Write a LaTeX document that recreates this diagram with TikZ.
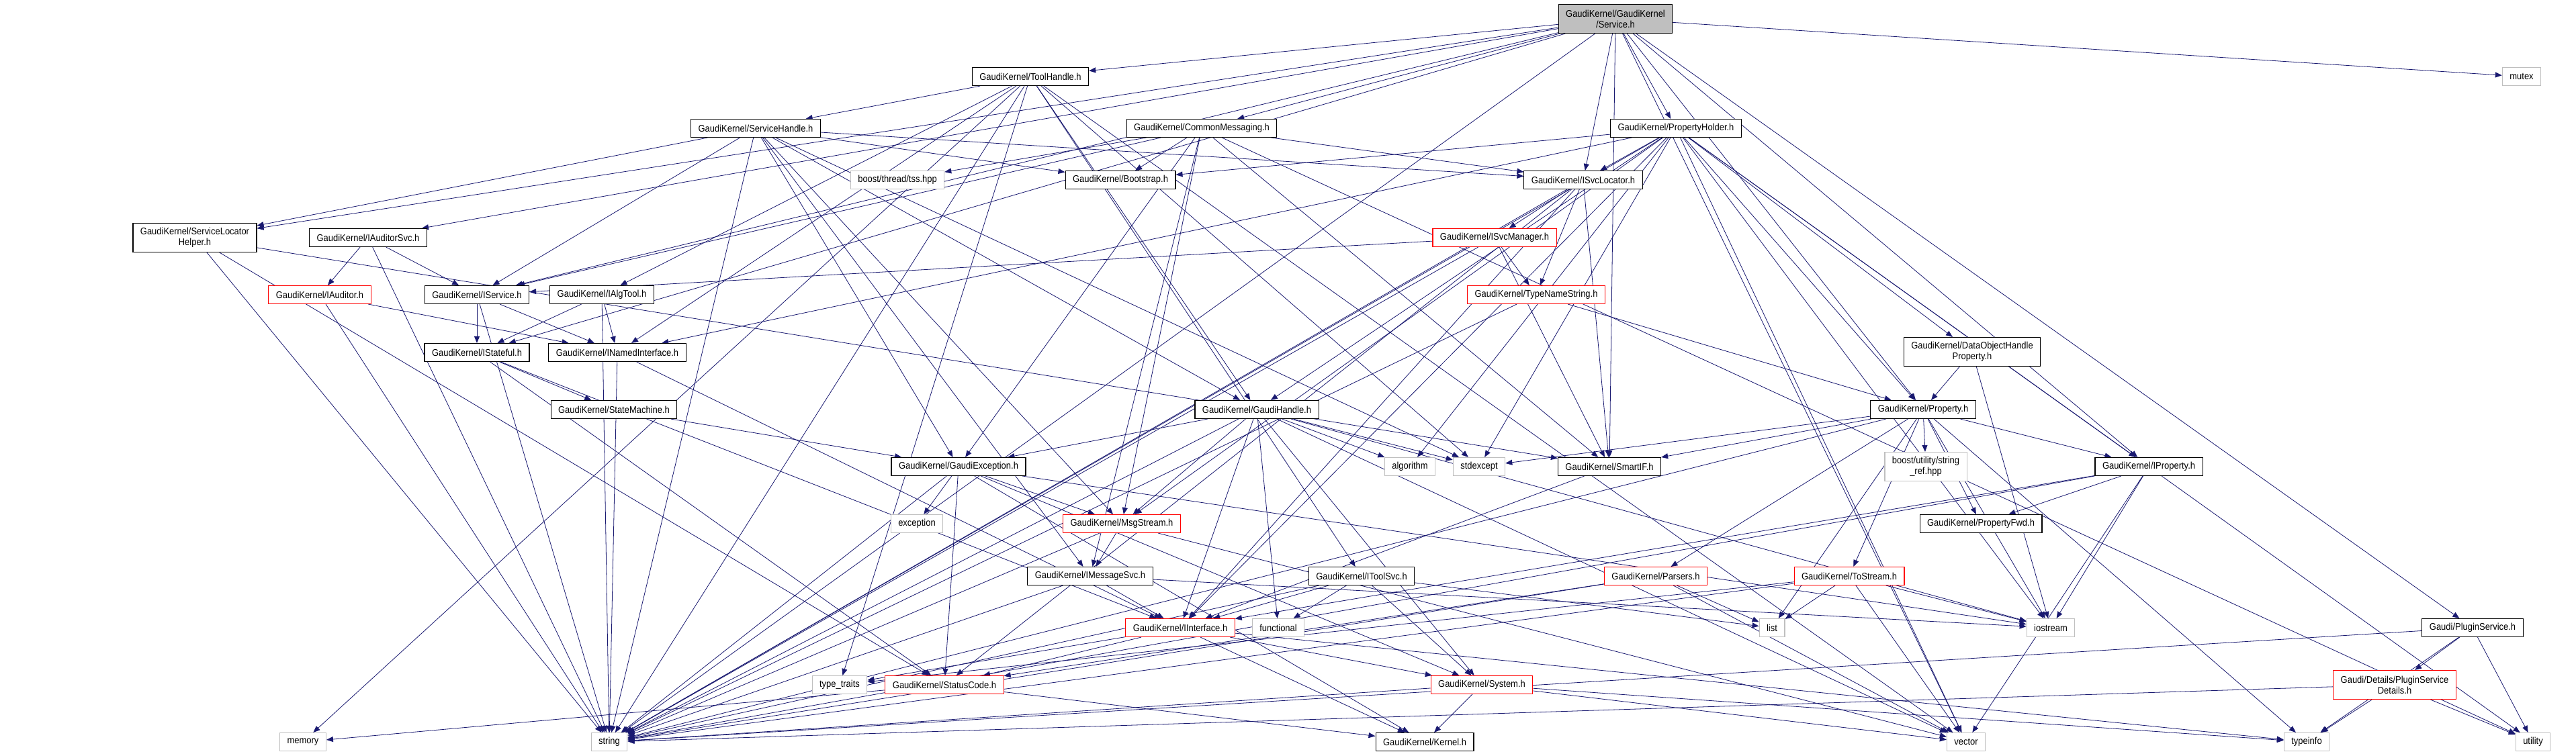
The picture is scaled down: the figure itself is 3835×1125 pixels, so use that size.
\documentclass[tikz,border=0pt]{standalone}
\usepackage{fontspec}
\newfontfamily\graphfont[FakeStretch=0.9]{Liberation Sans}
\usepackage{tikz}
\usetikzlibrary{arrows.meta}
\pgfdeclarelayer{edges}
\pgfsetlayers{edges,main}
\definecolor{edgeblue}{HTML}{191970}
\definecolor{sysgray}{HTML}{BFBFBF}
\definecolor{rootgray}{HTML}{BFBFBF}
\definecolor{hdrred}{HTML}{FF0000}
\tikzset{
  hdr/.style={draw=black,fill=white,line width=1.1pt,rectangle,align=center,
    minimum height=27pt,inner xsep=11pt,inner ysep=3pt,
    font={\graphfont\fontsize{14.4pt}{16pt}\selectfont}},
  redhdr/.style={hdr,draw=hdrred},
  syshdr/.style={hdr,draw=sysgray},
  roothdr/.style={hdr,fill=rootgray},
  twoline/.style={minimum height=43pt},
  incl/.style={-{Triangle[length=10pt,width=8pt]},line width=0.8pt,draw=edgeblue}
}

\begin{document}
\begin{tikzpicture}[x=1pt,y=-1pt]
\useasboundingbox (0,0) rectangle (3835,1125);

% header boxes, top to bottom
\node[roothdr,twoline] (svc) at (2405,28) {GaudiKernel/GaudiKernel\\/Service.h};
\node[hdr] (toolh) at (1534,114) {GaudiKernel/ToolHandle.h};
\node[syshdr] (mutex) at (3754,114) {mutex};
\node[hdr] (servh) at (1125,191) {GaudiKernel/ServiceHandle.h};
\node[hdr] (cmsg) at (1789,191) {GaudiKernel/CommonMessaging.h};
\node[hdr] (propholder) at (2495,191) {GaudiKernel/PropertyHolder.h};
\node[syshdr] (tss) at (1336,268) {boost/thread/tss.hpp};
\node[hdr] (bootstrap) at (1668,268) {GaudiKernel/Bootstrap.h};
\node[hdr] (isvcloc) at (2357,268) {GaudiKernel/ISvcLocator.h};
\node[hdr,twoline] (svclochelper) at (290,354) {GaudiKernel/ServiceLocator\\Helper.h};
\node[hdr] (iauditorsvc) at (548,354) {GaudiKernel/IAuditorSvc.h};
\node[redhdr] (isvcmanager) at (2225,354) {GaudiKernel/ISvcManager.h};
\node[redhdr] (iauditor) at (476,439) {GaudiKernel/IAuditor.h};
\node[hdr] (iservice) at (710,439) {GaudiKernel/IService.h};
\node[hdr] (ialgtool) at (896,439) {GaudiKernel/IAlgTool.h};
\node[redhdr] (typenamestring) at (2287,439) {GaudiKernel/TypeNameString.h};
\node[hdr,twoline] (dohprop) at (2936,524) {GaudiKernel/DataObjectHandle\\Property.h};
\node[hdr] (istateful) at (710,525) {GaudiKernel/IStateful.h};
\node[hdr] (inamedif) at (919,525) {GaudiKernel/INamedInterface.h};
\node[hdr] (statemachine) at (914,610) {GaudiKernel/StateMachine.h};
\node[hdr] (gaudihandle) at (1871,610) {GaudiKernel/GaudiHandle.h};
\node[hdr] (property) at (2863,610) {GaudiKernel/Property.h};
\node[hdr] (gexc) at (1427,695) {GaudiKernel/GaudiException.h};
\node[syshdr] (algorithm) at (2099,695) {algorithm};
\node[syshdr] (stdexcept) at (2202,695) {stdexcept};
\node[hdr] (smartif) at (2396,695) {GaudiKernel/SmartIF.h};
\node[syshdr,twoline] (stringref) at (2867,695) {boost/utility/string\\\_ref.hpp};
\node[hdr] (iproperty) at (3199,695) {GaudiKernel/IProperty.h};
\node[syshdr] (exception) at (1365,780) {exception};
\node[redhdr] (msgstream) at (1670,780) {GaudiKernel/MsgStream.h};
\node[hdr] (propertyfwd) at (2949,780) {GaudiKernel/PropertyFwd.h};
\node[hdr] (imsgsvc) at (1623,858) {GaudiKernel/IMessageSvc.h};
\node[hdr] (itoolsvc) at (2027,858) {GaudiKernel/IToolSvc.h};
\node[redhdr] (parsers) at (2465,858) {GaudiKernel/Parsers.h};
\node[redhdr] (tostream) at (2753,858) {GaudiKernel/ToStream.h};
\node[redhdr] (iinterface) at (1757,935) {GaudiKernel/IInterface.h};
\node[syshdr] (functional) at (1903,935) {functional};
\node[syshdr] (list) at (2638,935) {list};
\node[syshdr] (iostream) at (3053,935) {iostream};
\node[hdr] (pluginsvc) at (3681,935) {Gaudi/PluginService.h};
\node[syshdr] (typetraits) at (1250,1020) {type\_traits};
\node[redhdr] (statuscode) at (1406,1020) {GaudiKernel/StatusCode.h};
\node[redhdr] (system) at (2206,1020) {GaudiKernel/System.h};
\node[redhdr,twoline] (pluginsvcdetails) at (3565,1020) {Gaudi/Details/PluginService\\Details.h};
\node[syshdr] (memory) at (451,1105) {memory};
\node[syshdr] (string) at (907,1105) {string};
\node[hdr] (kernel) at (2121,1105) {GaudiKernel/Kernel.h};
\node[syshdr] (vector) at (2927,1105) {vector};
\node[syshdr] (typeinfo) at (3434,1105) {typeinfo};
\node[syshdr] (utility) at (3771,1105) {utility};

\begin{pgfonlayer}{edges}
% includes of Service.h
\draw[incl] (svc) -- (toolh);
\draw[incl] (svc) -- (cmsg);
\draw[incl] (svc) -- (propholder);
\draw[incl] (svc) -- (isvcloc);
\draw[incl] (svc) -- (svclochelper);
\draw[incl] (svc) -- (iauditorsvc);
\draw[incl] (svc) -- (iservice);
\draw[incl] (svc) -- (istateful);
\draw[incl] (svc) -- (iproperty);
\draw[incl] (svc) -- (property);
\draw[incl] (svc) -- (smartif);
\draw[incl] (svc) -- (pluginsvc);
\draw[incl] (svc) -- (mutex);
\draw[incl] (svc) -- (vector);
\draw[incl] (svc) -- (string);
% ToolHandle.h
\draw[incl] (toolh) -- (servh);
\draw[incl] (toolh) -- (gaudihandle);
\draw[incl] (toolh) -- (ialgtool);
\draw[incl] (toolh) -- (inamedif);
\draw[incl] (toolh) -- (itoolsvc);
\draw[incl] (toolh) -- (stdexcept);
\draw[incl] (toolh) -- (string);
\draw[incl] (toolh) -- (vector);
\draw[incl] (toolh) -- (typetraits);
\draw[incl] (toolh) -- (memory);
% ServiceHandle.h
\draw[incl] (servh) -- (gaudihandle);
\draw[incl] (servh) -- (gexc);
\draw[incl] (servh) -- (imsgsvc);
\draw[incl] (servh) -- (iservice);
\draw[incl] (servh) -- (isvcloc);
\draw[incl] (servh) -- (msgstream);
\draw[incl] (servh) -- (bootstrap);
\draw[incl] (servh) -- (svclochelper);
\draw[incl] (servh) -- (string);
\draw[incl] (servh) -- (stdexcept);
% CommonMessaging.h
\draw[incl] (cmsg) -- (tss);
\draw[incl] (cmsg) -- (bootstrap);
\draw[incl] (cmsg) -- (iservice);
\draw[incl] (cmsg) -- (isvcloc);
\draw[incl] (cmsg) -- (imsgsvc);
\draw[incl] (cmsg) -- (msgstream);
\draw[incl] (cmsg) -- (smartif);
\draw[incl] (cmsg) -- (gexc);
\draw[incl] (cmsg) -- (utility);
% PropertyHolder.h
\draw[incl] (propholder) -- (bootstrap);
\draw[incl] (propholder) -- (isvcloc);
\draw[incl] (propholder) -- (dohprop);
\draw[incl] (propholder) -- (property);
\draw[incl] (propholder) -- (iproperty);
\draw[incl] (propholder) -- (iinterface);
\draw[incl] (propholder) -- (gaudihandle);
\draw[incl] (propholder) -- (msgstream);
\draw[incl] (propholder) -- (inamedif);
\draw[incl] (propholder) -- (algorithm);
\draw[incl] (propholder) -- (stdexcept);
\draw[incl] (propholder) -- (string);
\draw[incl] (propholder) -- (vector);
\draw[incl] (propholder) -- (iostream);
\draw[incl] (propholder) -- (utility);
% interfaces on the left
\draw[incl] (svclochelper) -- (string);
\draw[incl] (svclochelper) -- (smartif);
\draw[incl] (svclochelper) -- (statuscode);
\draw[incl] (iauditorsvc) -- (iservice);
\draw[incl] (iauditorsvc) -- (iauditor);
\draw[incl] (iauditorsvc) -- (string);
\draw[incl] (iauditor) -- (inamedif);
\draw[incl] (iauditor) -- (string);
\draw[incl] (iservice) -- (inamedif);
\draw[incl] (iservice) -- (istateful);
\draw[incl] (iservice) -- (string);
\draw[incl] (ialgtool) -- (inamedif);
\draw[incl] (ialgtool) -- (istateful);
\draw[incl] (ialgtool) -- (string);
\draw[incl] (istateful) -- (iinterface);
\draw[incl] (istateful) -- (statemachine);
\draw[incl] (istateful) -- (statuscode);
\draw[incl] (inamedif) -- (iinterface);
\draw[incl] (inamedif) -- (string);
\draw[incl] (statemachine) -- (gexc);
% service locator and manager
\draw[incl] (isvcloc) -- (isvcmanager);
\draw[incl] (isvcloc) -- (typenamestring);
\draw[incl] (isvcloc) -- (smartif);
\draw[incl] (isvcloc) -- (iinterface);
\draw[incl] (isvcloc) -- (statuscode);
\draw[incl] (isvcloc) -- (string);
\draw[incl] (isvcmanager) -- (iservice);
\draw[incl] (isvcmanager) -- (typenamestring);
\draw[incl] (isvcmanager) -- (smartif);
\draw[incl] (isvcmanager) -- (string);
\draw[incl] (typenamestring) -- (property);
\draw[incl] (typenamestring) -- (string);
\draw[incl] (dohprop) -- (property);
\draw[incl] (dohprop) -- (iostream);
% GaudiHandle.h and GaudiException.h
\draw[incl] (gaudihandle) -- (gexc);
\draw[incl] (gaudihandle) -- (iinterface);
\draw[incl] (gaudihandle) -- (system);
\draw[incl] (gaudihandle) -- (msgstream);
\draw[incl] (gaudihandle) -- (algorithm);
\draw[incl] (gaudihandle) -- (stdexcept);
\draw[incl] (gaudihandle) -- (functional);
\draw[incl] (gaudihandle) -- (string);
\draw[incl] (gaudihandle) -- (vector);
\draw[incl] (gaudihandle) -- (iostream);
\draw[incl] (gexc) -- (exception);
\draw[incl] (gexc) -- (msgstream);
\draw[incl] (gexc) -- (statuscode);
\draw[incl] (gexc) -- (system);
\draw[incl] (gexc) -- (kernel);
\draw[incl] (gexc) -- (string);
\draw[incl] (gexc) -- (iostream);
% messaging and tools
\draw[incl] (msgstream) -- (imsgsvc);
\draw[incl] (msgstream) -- (string);
\draw[incl] (msgstream) -- (vector);
\draw[incl] (imsgsvc) -- (iinterface);
\draw[incl] (imsgsvc) -- (string);
\draw[incl] (imsgsvc) -- (iostream);
\draw[incl] (itoolsvc) -- (functional);
\draw[incl] (itoolsvc) -- (list);
\draw[incl] (itoolsvc) -- (system);
\draw[incl] (itoolsvc) -- (iinterface);
\draw[incl] (itoolsvc) -- (string);
\draw[incl] (iinterface) -- (kernel);
\draw[incl] (iinterface) -- (statuscode);
\draw[incl] (iinterface) -- (system);
\draw[incl] (iinterface) -- (typetraits);
\draw[incl] (iinterface) -- (typeinfo);
\draw[incl] (statuscode) -- (kernel);
\draw[incl] (statuscode) -- (memory);
\draw[incl] (system) -- (kernel);
\draw[incl] (system) -- (string);
\draw[incl] (system) -- (vector);
\draw[incl] (system) -- (typeinfo);
\draw[incl] (smartif) -- (iinterface);
% properties
\draw[incl] (property) -- (iproperty);
\draw[incl] (property) -- (propertyfwd);
\draw[incl] (property) -- (smartif);
\draw[incl] (property) -- (parsers);
\draw[incl] (property) -- (tostream);
\draw[incl] (property) -- (stringref);
\draw[incl] (property) -- (list);
\draw[incl] (property) -- (stdexcept);
\draw[incl] (property) -- (string);
\draw[incl] (property) -- (iostream);
\draw[incl] (property) -- (typeinfo);
\draw[incl] (iproperty) -- (propertyfwd);
\draw[incl] (iproperty) -- (iinterface);
\draw[incl] (iproperty) -- (string);
\draw[incl] (iproperty) -- (vector);
\draw[incl] (iproperty) -- (iostream);
\draw[incl] (parsers) -- (statuscode);
\draw[incl] (parsers) -- (list);
\draw[incl] (parsers) -- (vector);
\draw[incl] (parsers) -- (string);
\draw[incl] (tostream) -- (list);
\draw[incl] (tostream) -- (iostream);
\draw[incl] (tostream) -- (vector);
\draw[incl] (tostream) -- (string);
\draw[incl] (tostream) -- (typetraits);
% plugin service
\draw[incl] (pluginsvc) -- (pluginsvcdetails);
\draw[incl] (pluginsvc) -- (string);
\draw[incl] (pluginsvc) -- (typeinfo);
\draw[incl] (pluginsvc) -- (utility);
\draw[incl] (pluginsvcdetails) -- (string);
\draw[incl] (pluginsvcdetails) -- (typeinfo);
\draw[incl] (pluginsvcdetails) -- (utility);
\end{pgfonlayer}
\end{tikzpicture}
\end{document}
